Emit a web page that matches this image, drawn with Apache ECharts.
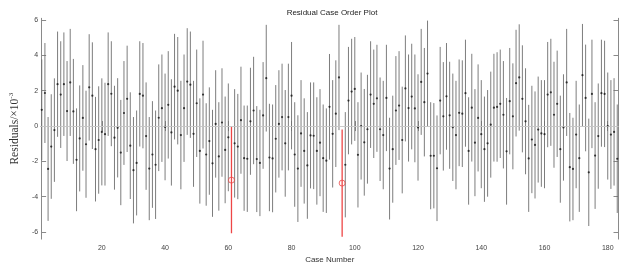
<!DOCTYPE html>
<html><head><meta charset="utf-8">
<script src="https://cdn.jsdelivr.net/npm/echarts@6/dist/echarts.min.js"></script>
<style>html,body{margin:0;padding:0;background:#fff}#c{width:630px;height:269px}</style>
</head><body><div id="c"></div>
<script>
// residuals (x10^-3) per case, and confidence interval bounds
const residuals = [0.92,1.87,-2.43,-1.16,-0.23,2.37,1.78,2.37,0.85,2.47,
 0.83,-1.91,-0.70,0.46,-1.03,2.19,1.72,-1.31,-0.79,-0.33,
 -0.46,2.37,1.83,-0.66,-0.10,-1.50,0.74,1.54,-1.11,-2.50,
 -2.09,1.82,1.72,-0.57,-2.41,-1.61,-2.19,0.47,1.01,-0.05,
 1.20,-0.36,2.23,2.00,-0.51,1.01,2.52,2.34,-0.44,1.29,
 -1.41,1.78,-1.61,-0.85,-2.11,0.12,-1.72,0.20,-1.35,-0.64,
 -3.06,-0.98,-1.16,0.33,-1.82,-1.85,0.27,0.88,-1.87,-2.09,
 0.60,2.71,-1.78,-1.83,-0.72,0.12,0.51,-0.98,0.51,1.72,
 -1.61,-2.41,-0.42,-1.41,-2.23,-0.53,-0.55,-1.41,-0.94,-1.82,
 -1.96,1.09,-0.44,0.70,2.75,-3.23,-2.19,1.44,1.95,2.10,
 -1.63,0.00,-0.92,-0.18,1.78,1.26,1.57,-0.18,-0.51,1.59,
 -2.41,-1.31,0.88,1.16,-0.79,2.13,1.02,1.67,1.00,-0.08,
 2.50,1.35,2.97,-1.68,-1.68,-2.39,1.44,0.55,1.68,0.61,
 -0.07,-0.51,0.75,0.70,1.86,-1.41,1.04,-0.94,0.46,-0.46,
 -1.31,-0.98,0.08,1.04,1.08,1.26,0.64,-1.43,1.41,0.55,
 2.43,2.75,1.54,0.27,-1.83,-0.76,-1.07,-0.20,-0.42,-0.46,
 1.78,1.91,0.64,1.26,-1.31,-0.08,2.47,-2.33,-2.43,-0.48,
 -1.82,2.88,1.59,-2.62,1.82,-1.67,-0.57,1.86,1.82,0.00,
 -0.48,-0.33,-1.85];
const upper = [3.77,4.70,0.51,1.80,2.70,5.35,4.80,5.30,3.68,5.50,
 3.80,1.00,2.30,3.45,2.00,5.20,4.74,1.65,2.25,2.70,
 2.45,5.30,4.80,2.28,2.71,1.48,3.68,4.55,1.91,0.51,
 0.88,4.80,4.70,2.47,0.51,1.41,0.88,3.49,4.05,2.97,
 4.24,2.65,5.22,5.04,2.56,4.05,5.54,5.35,2.56,4.33,
 1.57,4.83,1.29,2.19,0.92,3.16,1.35,3.27,1.67,2.41,
 -0.05,2.09,1.82,3.36,1.16,1.16,3.30,3.92,1.13,0.92,
 3.62,5.73,1.26,1.22,2.32,3.16,3.53,2.04,3.53,4.76,
 1.35,0.61,2.60,1.57,0.79,2.47,2.47,1.63,2.09,1.22,
 1.00,4.08,2.60,3.72,5.73,-0.20,0.79,4.48,4.94,5.04,
 1.35,3.03,2.10,2.90,4.80,4.33,4.60,2.75,2.56,4.60,
 0.47,1.72,3.96,4.24,2.23,5.13,4.05,4.66,4.05,2.93,
 5.50,4.42,5.97,1.35,1.30,0.60,4.48,3.62,4.70,3.64,
 2.97,2.56,3.77,3.72,4.89,1.63,4.09,2.09,3.49,2.60,
 1.67,2.04,3.08,4.09,4.18,4.33,3.68,1.59,4.42,3.55,
 5.45,5.76,4.57,3.27,1.20,2.28,1.96,2.80,2.60,2.60,
 4.76,4.94,3.64,4.27,1.72,2.93,5.50,0.74,0.47,2.56,
 1.22,5.78,4.61,0.42,4.89,1.35,2.41,4.89,4.83,3.03,
 2.60,2.71,1.22];
const lower = [-1.93,-0.96,-5.37,-4.12,-3.16,-0.61,-1.24,-0.56,-1.98,-0.56,
 -2.14,-4.82,-3.70,-2.53,-4.06,-0.82,-1.30,-4.27,-3.83,-3.36,
 -3.37,-0.56,-1.14,-3.60,-2.91,-4.48,-2.20,-1.47,-4.13,-5.51,
 -5.06,-1.16,-1.26,-3.61,-5.33,-4.63,-5.26,-2.55,-2.03,-3.07,
 -1.84,-3.37,-0.76,-1.04,-3.58,-2.03,-0.50,-0.67,-3.44,-1.75,
 -4.39,-1.27,-4.51,-3.89,-5.14,-2.92,-4.79,-2.87,-4.37,-3.69,
 -6.07,-4.05,-4.14,-2.70,-4.80,-4.86,-2.76,-2.16,-4.87,-5.10,
 -2.42,-0.31,-4.82,-4.88,-3.76,-2.92,-2.51,-4.00,-2.51,-1.32,
 -4.57,-5.43,-3.44,-4.39,-5.25,-3.53,-3.57,-4.45,-3.97,-4.86,
 -4.92,-1.90,-3.48,-2.32,-0.23,-6.26,-5.17,-1.60,-1.04,-0.84,
 -4.61,-3.03,-3.94,-3.26,-1.24,-1.81,-1.46,-3.11,-3.58,-1.42,
 -5.29,-4.34,-2.20,-1.92,-3.81,-0.87,-2.01,-1.32,-2.05,-3.09,
 -0.50,-1.72,-0.03,-4.71,-4.66,-5.38,-1.60,-2.52,-1.34,-2.42,
 -3.11,-3.58,-2.27,-2.32,-1.17,-4.45,-2.01,-3.97,-2.57,-3.52,
 -4.29,-4.00,-2.92,-2.01,-2.02,-1.81,-2.40,-4.45,-1.60,-2.45,
 -0.59,-0.26,-1.49,-2.73,-4.86,-3.80,-4.10,-3.20,-3.44,-3.52,
 -1.20,-1.12,-2.36,-1.75,-4.34,-3.09,-0.56,-5.40,-5.33,-3.52,
 -4.86,-0.02,-1.43,-5.66,-1.25,-4.69,-3.55,-1.17,-1.19,-3.03,
 -3.56,-3.37,-4.92];
const xTicks = [20,40,60,80,100,120,140,160,180];
const yTicks = [-6,-4,-2,0,2,4,6];
const caseNumbers = residuals.map((_, i) => i + 1);

const RED = '#ee4646';
const isOut = i => lower[i] > 0 || upper[i] < 0;
const intervalData = caseNumbers.map((c, i) => [c, lower[i], upper[i]]);
const normalPts = [], outPts = [];
caseNumbers.forEach((c, i) => (isOut(i) ? outPts : normalPts).push([c, residuals[i]]));

const axisCol = '#8a8a8a';
const baseX = {type:'value', min:0.8, max:183.4, splitLine:{show:false},
  axisLine:{lineStyle:{color:axisCol, width:1}},
  axisTick:{inside:true, length:5, customValues:xTicks, lineStyle:{color:axisCol}}};
const baseY = {type:'value', min:-6.4, max:6.1, splitLine:{show:false},
  axisLine:{show:true, lineStyle:{color:axisCol, width:1}},
  axisTick:{show:true, inside:true, length:5, customValues:yTicks, lineStyle:{color:axisCol}}};

const chart = echarts.init(document.getElementById('c'));
chart.setOption({
  animation:false,
  backgroundColor:'#fff',
  title:{text:'Residual Case Order Plot', left:327, top:4, textAlign:'center',
    textStyle:{fontFamily:'Liberation Sans, Arial', fontSize:8, fontWeight:'normal', color:'#222'}},
  grid:{left:36, right:11.5, top:18.3, bottom:26.7},
  xAxis:[
    Object.assign({}, baseX, {position:'bottom',
      axisLabel:{customValues:xTicks, fontSize:7, color:'#444', margin:5, fontFamily:'Liberation Sans, Arial'},
      name:'Case Number', nameLocation:'middle', nameGap:15,
      nameTextStyle:{fontSize:8, color:'#333', fontFamily:'Liberation Sans, Arial'}}),
    Object.assign({}, baseX, {position:'top', axisLabel:{show:false}})
  ],
  yAxis:[
    Object.assign({}, baseY, {position:'left',
      axisLabel:{customValues:yTicks, fontSize:7, color:'#444', margin:3, fontFamily:'Liberation Sans, Arial'},
      name:'{a|Residuals/×10}{b|-3}', nameLocation:'middle', nameGap:16, nameRotate:90,
      nameTextStyle:{rich:{
        a:{fontFamily:'Liberation Serif, Times New Roman', fontSize:11.5, color:'#333'},
        b:{fontFamily:'Liberation Serif, Times New Roman', fontSize:7, color:'#333', padding:[0,0,7,0]}
      }}}),
    Object.assign({}, baseY, {position:'right', axisLabel:{show:false}})
  ],
  series:[
    {type:'custom', name:'intervals', xAxisIndex:0, yAxisIndex:0, z:2,
      data:intervalData, encode:{x:0, y:[1,2]},
      renderItem:function(params, api){
        const x = api.value(0), lo = api.value(1), hi = api.value(2);
        const p1 = api.coord([x, lo]), p2 = api.coord([x, hi]);
        const out = lo > 0 || hi < 0;
        return {type:'line', shape:{x1:p1[0], y1:p1[1], x2:p2[0], y2:p2[1]},
          style:{stroke: out ? RED : '#6e6e6e', lineWidth: out ? 1.3 : 0.9}};
      }},
    {type:'line', name:'zero', data:[], z:3,
      markLine:{silent:true, symbol:'none', label:{show:false},
        lineStyle:{color:'rgba(255,255,255,0.55)', width:1, type:'solid'}, data:[{yAxis:0}]}},
    {type:'scatter', name:'residuals', data:normalPts, z:4, symbol:'circle', symbolSize:2.2,
      itemStyle:{color:'#111'}},
    {type:'scatter', name:'outliers', data:outPts, z:5, symbol:'circle', symbolSize:6,
      itemStyle:{color:'rgba(0,0,0,0)', borderColor:RED, borderWidth:1}}
  ]
});
</script></body></html>
